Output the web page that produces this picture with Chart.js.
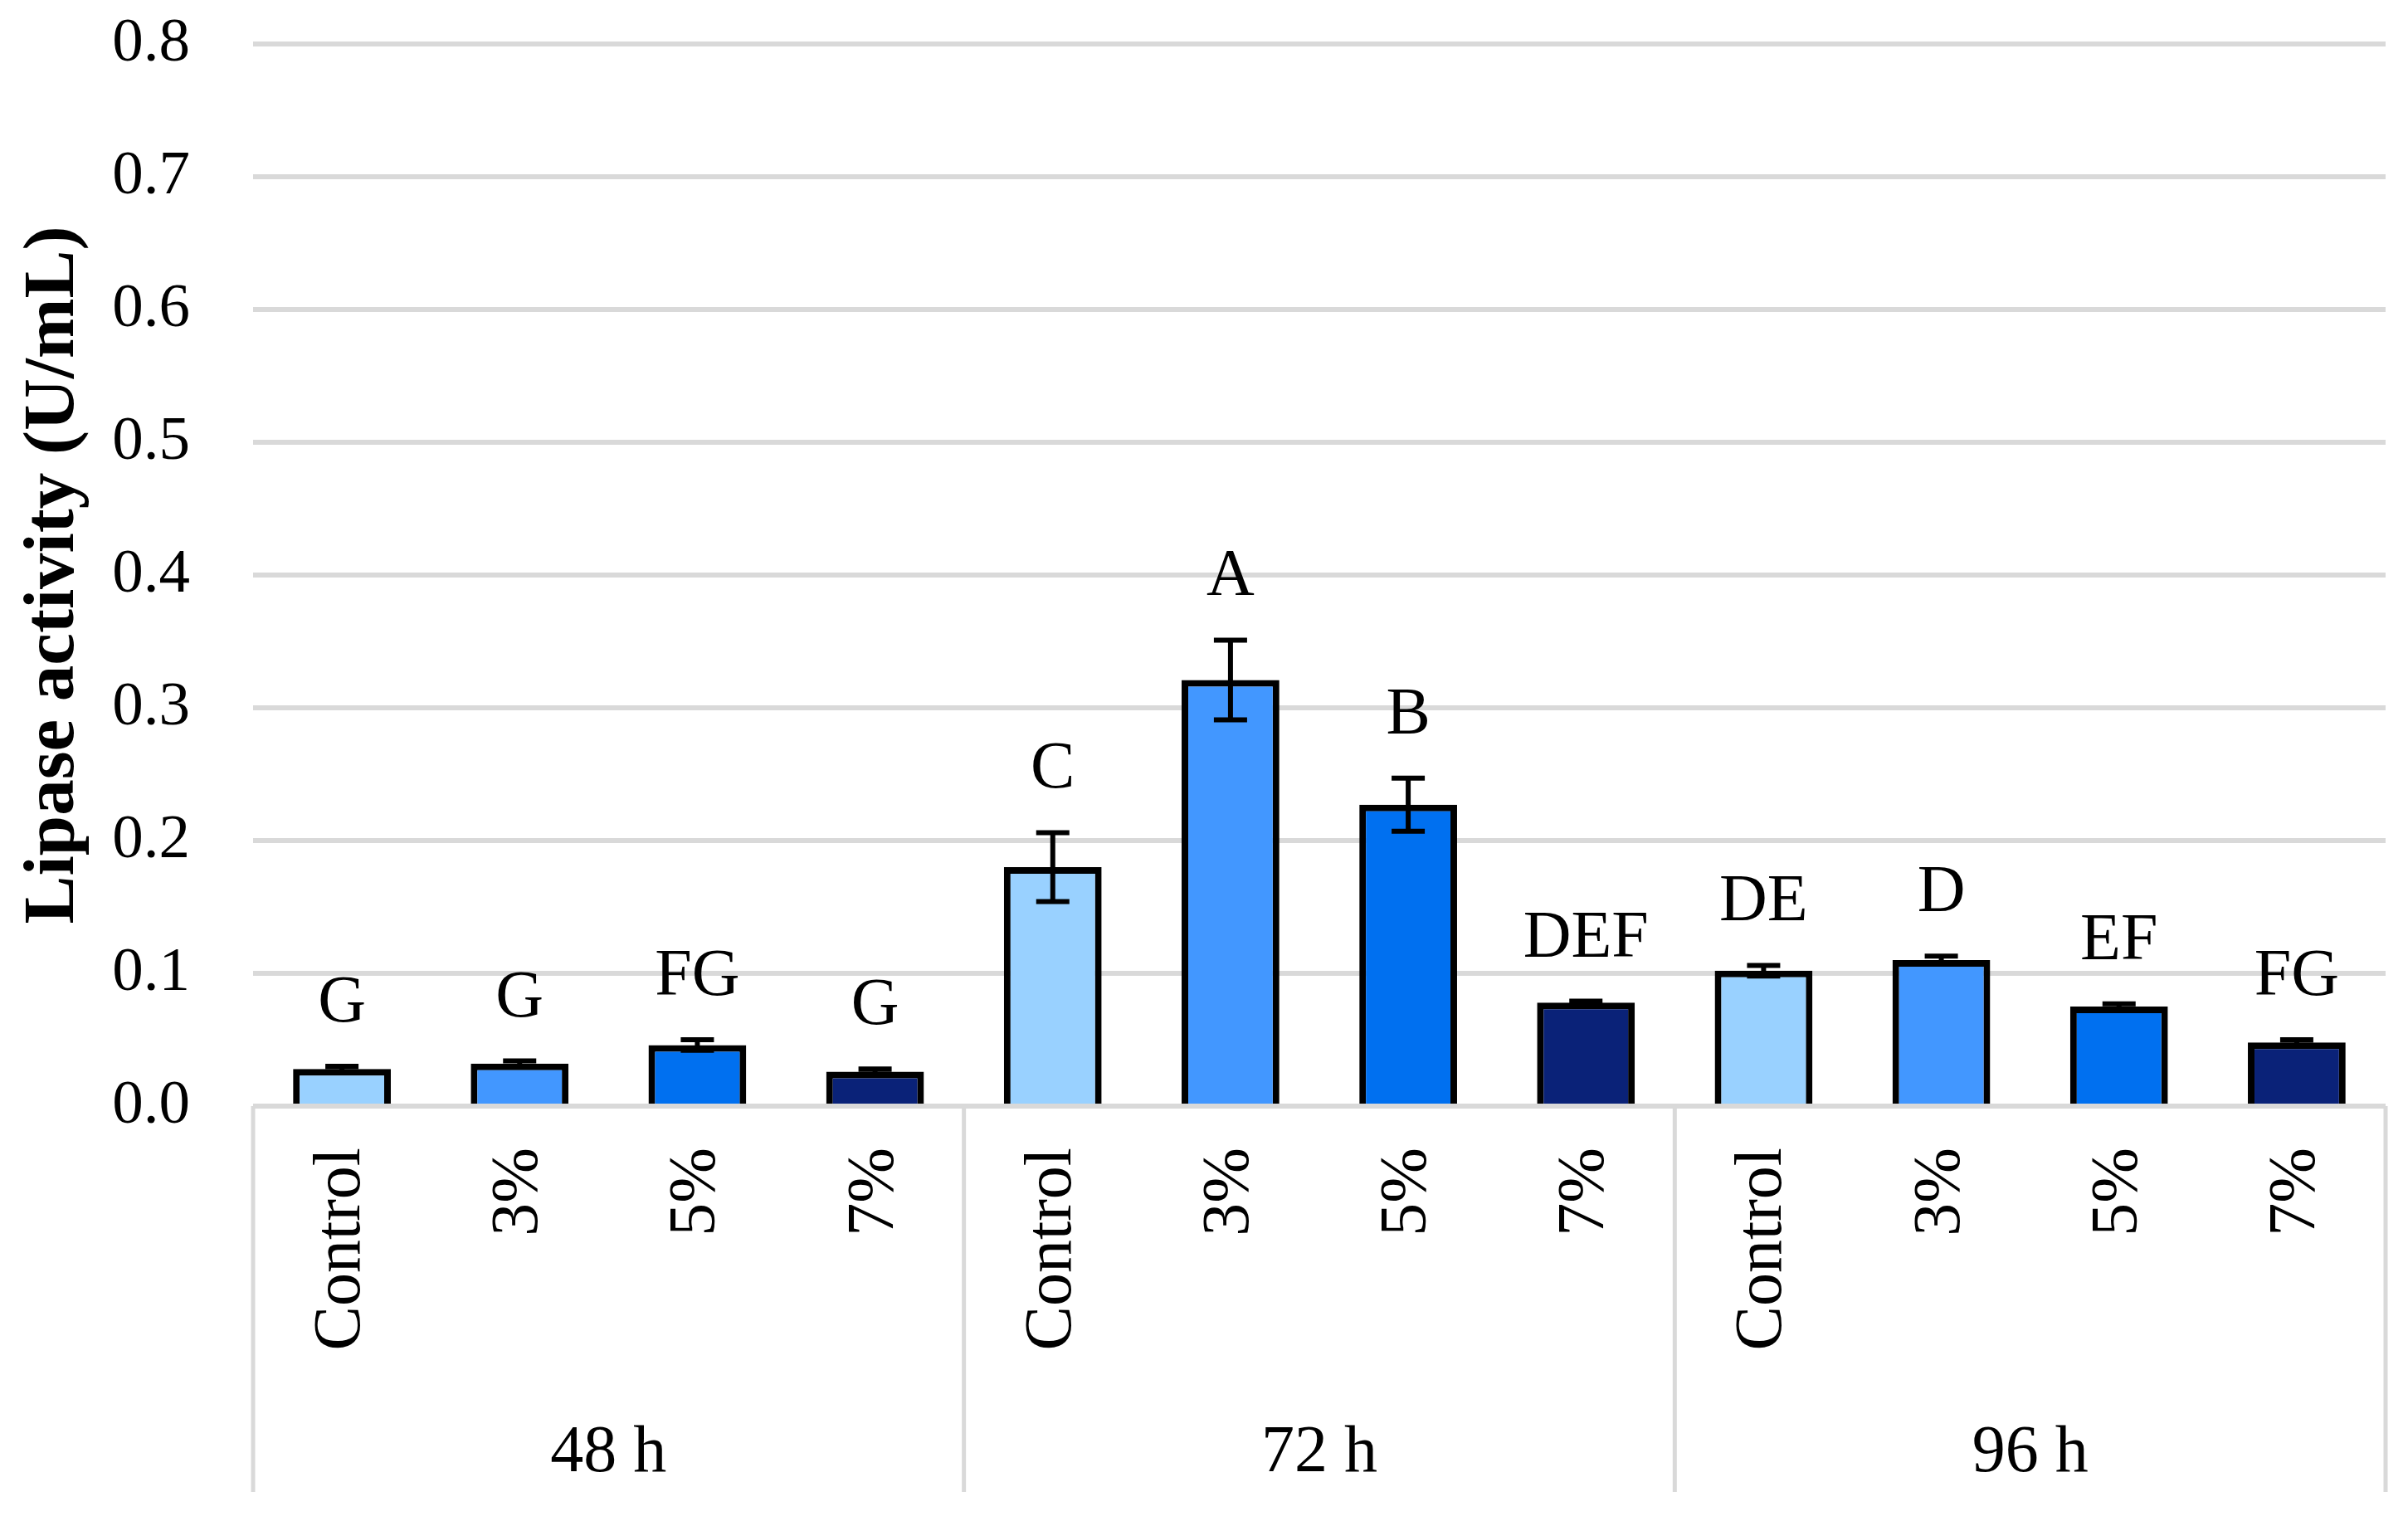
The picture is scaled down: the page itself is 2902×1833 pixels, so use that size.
<!DOCTYPE html>
<html lang="en">
<head>
<meta charset="UTF-8">
<title>Lipase activity</title>
<script src="https://cdn.jsdelivr.net/npm/chart.js"></script>
<style>
    body { margin: 0; background: #fff; }
    .wrap { width: 2902px; height: 1833px; }
</style>
</head>
<body>
<div class="wrap"><canvas id="lipaseChart"></canvas></div>
<script>
    // values
    const groups = ['48 h', '72 h', '96 h'];
    const treatments = ['Control', '3%', '5%', '7%'];
    const activity = [0.028, 0.032, 0.046, 0.026, 0.180, 0.321, 0.227, 0.078, 0.102, 0.110, 0.075, 0.048];
    const errors = [0.002, 0.002, 0.004, 0.002, 0.026, 0.030, 0.020, 0.001, 0.004, 0.003, 0.002, 0.002];
    const letters = ['G', 'G', 'FG', 'G', 'C', 'A', 'B', 'DEF', 'DE', 'D', 'EF', 'FG'];
    const treatmentColors = ['#99d1ff', '#4297ff', '#0070f0', '#0a2278'];

    const labels = [];
    const colors = [];
    groups.forEach(() => {
        treatments.forEach((t, j) => {
            labels.push(t);
            colors.push(treatmentColors[j]);
        });
    });

    const serif = '"Liberation Serif", "DejaVu Serif", serif';

    // error bars, significance letters, group axis
    const extras = {
        id: 'extras',
        afterDatasetsDraw(chart) {
            const ctx = chart.ctx;
            const y = chart.scales.y;
            const bars = chart.getDatasetMeta(0).data;
            ctx.save();
            ctx.strokeStyle = '#000';
            ctx.lineWidth = 6;
            ctx.fillStyle = '#000';
            ctx.font = '80px ' + serif;
            ctx.textAlign = 'center';
            ctx.textBaseline = 'alphabetic';
            bars.forEach((bar, i) => {
                const top = y.getPixelForValue(activity[i] + errors[i]);
                const bot = y.getPixelForValue(activity[i] - errors[i]);
                ctx.beginPath();
                ctx.moveTo(bar.x, top); ctx.lineTo(bar.x, bot);
                ctx.moveTo(bar.x - 20, top); ctx.lineTo(bar.x + 20, top);
                ctx.moveTo(bar.x - 20, bot); ctx.lineTo(bar.x + 20, bot);
                ctx.stroke();
                ctx.fillText(letters[i], bar.x, top - 54);
            });
            ctx.restore();
        },
        afterDraw(chart) {
            const ctx = chart.ctx;
            const x = chart.scales.x;
            const base = chart.chartArea.bottom;
            const n = treatments.length;
            ctx.save();
            ctx.strokeStyle = '#d9d9d9';
            ctx.lineWidth = 5;
            for (let g = 0; g <= groups.length; g++) {
                const px = x.getPixelForValue(g * n - 0.5);
                ctx.beginPath();
                ctx.moveTo(px, base);
                ctx.lineTo(px, base + 465);
                ctx.stroke();
            }
            ctx.fillStyle = '#000';
            ctx.font = '80px ' + serif;
            ctx.textAlign = 'center';
            ctx.textBaseline = 'alphabetic';
            groups.forEach((g, k) => {
                const a = x.getPixelForValue(k * n - 0.5);
                const b = x.getPixelForValue((k + 1) * n - 0.5);
                ctx.fillText(g, (a + b) / 2, base + 440);
            });
            ctx.restore();
        }
    };

    const ctx = document.getElementById('lipaseChart').getContext('2d');
    new Chart(ctx, {
        type: 'bar',
        data: {
            labels: labels,
            datasets: [{
                data: activity,
                backgroundColor: colors,
                borderColor: '#000',
                borderWidth: 8,
                barPercentage: 0.55,
                categoryPercentage: 1.0
            }]
        },
        options: {
            responsive: true,
            maintainAspectRatio: false,
            animation: false,
            layout: { padding: { top: 53, right: 27, left: 0, bottom: 0 } },
            plugins: {
                legend: { display: false },
                tooltip: { enabled: false }
            },
            scales: {
                y: {
                    min: 0,
                    max: 0.8,
                    afterFit(scale) {
                        scale.width = 305;
                        scale.paddingTop = 0;
                        scale.paddingBottom = 0;
                    },
                    ticks: {
                        stepSize: 0.1,
                        padding: 76,
                        color: '#000',
                        font: { family: serif, size: 75 },
                        callback: v => v.toFixed(1)
                    },
                    grid: { color: '#d9d9d9', lineWidth: 6, drawTicks: false },
                    border: { display: false },
                    title: {
                        display: true,
                        text: 'Lipase activity (U/mL)',
                        color: '#000',
                        font: { family: serif, size: 87, weight: 'bold' },
                        padding: { top: 13, bottom: 0 }
                    }
                },
                x: {
                    afterFit(scale) {
                        scale.height = 500;
                        scale.paddingLeft = 0;
                        scale.paddingRight = 0;
                    },
                    ticks: {
                        minRotation: 90,
                        maxRotation: 90,
                        padding: 50,
                        color: '#000',
                        font: { family: serif, size: 80 }
                    },
                    grid: { display: false, drawTicks: false },
                    border: { display: false }
                }
            }
        },
        plugins: [extras]
    });
</script>
</body>
</html>
